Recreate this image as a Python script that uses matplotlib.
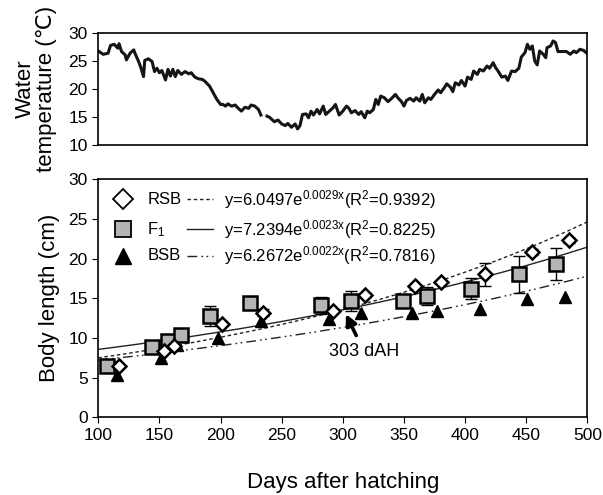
import numpy as np
import matplotlib
matplotlib.use('Agg')
import matplotlib.pyplot as plt

plt.rcParams['font.family'] = ['Liberation Sans', 'DejaVu Sans']
plt.rcParams['mathtext.fontset'] = 'custom'
plt.rcParams['mathtext.rm'] = 'Liberation Sans'
plt.rcParams['mathtext.it'] = 'Liberation Sans'

# 水温数据 (days after hatching, ℃)
temp_day = [100, 104, 108, 110, 113, 116, 117, 119, 122, 123, 126, 129, 130, 133, 135, 137, 138, 141, 144, 146,
            148, 150, 152, 155, 157, 159, 161, 163, 165, 168, 171, 174, 176, 179, 182, 185, 187, 191, 194, 197,
            200, 202, 204, 206, 209, 212, 214, 217, 220, 223, 225, 228, 231, 233, 235, 238, 240, 244, 247, 250,
            253, 255, 258, 261, 263, 265, 267, 270, 272, 274, 276, 279, 281, 284, 286, 289, 292, 294, 297, 300,
            303, 305, 307, 310, 313, 315, 318, 320, 322, 325, 327, 329, 331, 334, 337, 340, 343, 345, 348, 350,
            352, 355, 358, 360, 363, 365, 367, 370, 372, 375, 378, 380, 383, 385, 388, 390, 392, 395, 397, 400,
            402, 405, 407, 410, 412, 415, 418, 420, 423, 425, 427, 430, 433, 435, 438, 441, 444, 446, 449, 451,
            453, 455, 457, 459, 461, 464, 466, 467, 470, 472, 474, 476, 479, 483, 486, 489, 491, 494, 497, 500]
temp_val = [26.8, 26.2, 26.4, 27.8, 28.0, 27.3, 28.1, 26.7, 26.1, 25.2, 26.4, 27.0, 26.4, 24.9, 23.7, 22.2, 25.1, 25.4, 24.9, 23.1,
            23.7, 22.9, 23.3, 21.6, 23.5, 22.3, 23.5, 22.2, 23.3, 22.6, 23.1, 22.7, 22.9, 22.1, 21.8, 21.7, 21.4, 20.5, 19.3, 18.1,
            17.2, 17.2, 16.9, 17.3, 16.9, 17.1, 16.6, 16.0, 16.7, 16.5, 17.1, 16.9, 16.3, 15.3, np.nan, 15.1, 14.9, 14.1, 14.4, 13.7,
            13.4, 13.8, 13.1, 13.7, 12.8, 13.4, 15.4, 15.5, 14.8, 16.0, 15.3, 16.3, 15.5, 16.9, 15.4, 16.0, 16.6, 17.2, 15.3, 16.0,
            16.9, 16.5, 15.7, 16.1, 15.4, 15.9, 14.8, 16.0, 15.7, 16.3, 18.1, 17.2, 18.7, 18.4, 17.7, 18.3, 19.0, 18.4, 17.7, 16.9,
            17.9, 18.3, 17.8, 18.4, 17.8, 19.0, 17.5, 18.4, 18.1, 19.0, 19.8, 19.3, 20.2, 20.9, 20.3, 19.5, 21.1, 20.7, 21.5, 20.5,
            22.1, 21.7, 23.2, 22.6, 23.5, 23.2, 24.1, 23.7, 24.7, 23.8, 23.2, 22.1, 22.3, 21.5, 23.2, 23.1, 23.7, 25.7, 26.5, 28.0,
            27.1, 27.7, 25.0, 24.3, 26.8, 26.2, 25.6, 27.4, 27.7, 28.6, 28.3, 26.7, 26.7, 26.7, 26.2, 26.8, 26.5, 27.1, 26.9, 26.3]

# 体长数据
rsb_x = [117, 154, 162, 201, 235, 292, 318, 359, 380, 416, 455, 485]
rsb_y = [6.4, 8.3, 9.0, 11.8, 13.2, 13.4, 15.4, 16.6, 17.1, 18.0, 20.8, 22.3]
rsb_err = [0, 0, 0, 0, 0.5, 0, 0.3, 0, 0, 1.4, 0.4, 0.3]

f1_x = [107, 144, 157, 168, 191, 224, 282, 307, 349, 369, 405, 444, 474]
f1_y = [6.4, 8.9, 9.6, 10.4, 12.8, 14.4, 14.1, 14.6, 14.6, 15.3, 16.2, 18.0, 19.3]
f1_err = [0, 0, 0, 0, 1.25, 0.3, 1.1, 1.25, 0.3, 1.1, 1.3, 2.3, 2.0]

bsb_x = [115, 151, 164, 198, 233, 289, 315, 357, 377, 412, 451, 482]
bsb_y = [5.3, 7.5, 9.1, 10.0, 12.1, 12.4, 13.1, 13.2, 13.4, 13.7, 14.9, 15.2]

legend_names = ['RSB', 'F$_1$', 'BSB']
legend_eqs = ['y=6.0497e$^{\\mathrm{0.0029x}}$(R$^{\\mathrm{2}}$=0.9392)',
              'y=7.2394e$^{\\mathrm{0.0023x}}$(R$^{\\mathrm{2}}$=0.8225)',
              'y=6.2672e$^{\\mathrm{0.0022x}}$(R$^{\\mathrm{2}}$=0.7816)']

fig = plt.figure(figsize=(6.03, 4.95), dpi=100)
ax1 = fig.add_axes([0.163, 0.708, 0.811, 0.225])
ax2 = fig.add_axes([0.163, 0.157, 0.811, 0.481])

# 上图: 水温
ax1.plot(temp_day, temp_val, color='#151515', lw=2.2)
ax1.set_xlim(100, 500)
ax1.set_ylim(10, 30)
ax1.set_yticks([10, 15, 20, 25, 30])
ax1.set_xticks([])
ax1.tick_params(axis='y', direction='out', labelsize=12.5, length=4)
ax1.set_ylabel('Water\ntemperature (\u2103)', fontsize=16, labelpad=8, linespacing=1.0)

# 下图: 体长
xx = np.linspace(100, 500, 200)
styles = [(rsb_x, rsb_y, (0, (2.5, 2))), (f1_x, f1_y, '-'), (bsb_x, bsb_y, (0, (7, 3, 1.2, 2.5, 1.2, 3)))]
for sx, sy, ls in styles:
    b, ln_a = np.polyfit(sx, np.log(sy), 1)
    ax2.plot(xx, np.exp(ln_a) * np.exp(b * xx), color='#222222', lw=1.0, ls=ls, zorder=2)

ax2.errorbar(f1_x, f1_y, yerr=f1_err, fmt='none', ecolor='black', elinewidth=1.0, capsize=4, capthick=1.0, zorder=3)
ax2.errorbar(rsb_x, rsb_y, yerr=rsb_err, fmt='none', ecolor='black', elinewidth=1.0, capsize=4, capthick=1.0, zorder=3)
ax2.plot(bsb_x, bsb_y, '^', ms=9, color='black', zorder=4)
ax2.plot(f1_x, f1_y, 's', ms=9.5, mfc='#b4b4b4', mec='black', mew=1.8, zorder=5)
ax2.plot(rsb_x, rsb_y, 'D', ms=6.8, mfc='white', mec='black', mew=1.8, zorder=6)

ax2.annotate('', xy=(302.5, 13.0), xytext=(311, 10.3),
             arrowprops=dict(arrowstyle='-|>', color='black', lw=2.6, mutation_scale=16,
                             shrinkA=0, shrinkB=0), zorder=7)
ax2.text(289, 8.3, '303 dAH', fontsize=13, va='center')

# 图例
mk = [dict(marker='D', ms=10, mfc='white', mec='black', mew=1.3),
      dict(marker='s', ms=11, mfc='#b4b4b4', mec='black', mew=1.3),
      dict(marker='^', ms=12, mfc='black', mec='black', mew=1.0)]
lss = [(0, (2.5, 2)), '-', (0, (7, 3, 1.2, 2.5, 1.2, 3))]
rows = [0.915, 0.79, 0.678]
for i in range(3):
    ax2.plot([0.051], [rows[i]], transform=ax2.transAxes, ls='none', **mk[i])
    ax2.text(0.1, rows[i], legend_names[i], transform=ax2.transAxes, fontsize=12, va='center')
    ax2.plot([0.181, 0.235], [rows[i], rows[i]], transform=ax2.transAxes, color='#222222', lw=1.0, ls=lss[i])
    ax2.text(0.258, rows[i], legend_eqs[i], transform=ax2.transAxes, fontsize=12, va='center')

ax2.set_xlim(100, 500)
ax2.set_ylim(0, 30)
ax2.set_xticks(np.arange(100, 501, 50))
ax2.set_yticks(np.arange(0, 31, 5))
ax2.tick_params(direction='out', labelsize=12.5, length=4)
ax2.set_ylabel('Body length (cm)', fontsize=16, labelpad=6)
ax2.set_xlabel('Days after hatching', fontsize=16, labelpad=21)

for ax in (ax1, ax2):
    for s in ax.spines.values():
        s.set_linewidth(1.2)

fig.savefig('out.png', dpi=100)
